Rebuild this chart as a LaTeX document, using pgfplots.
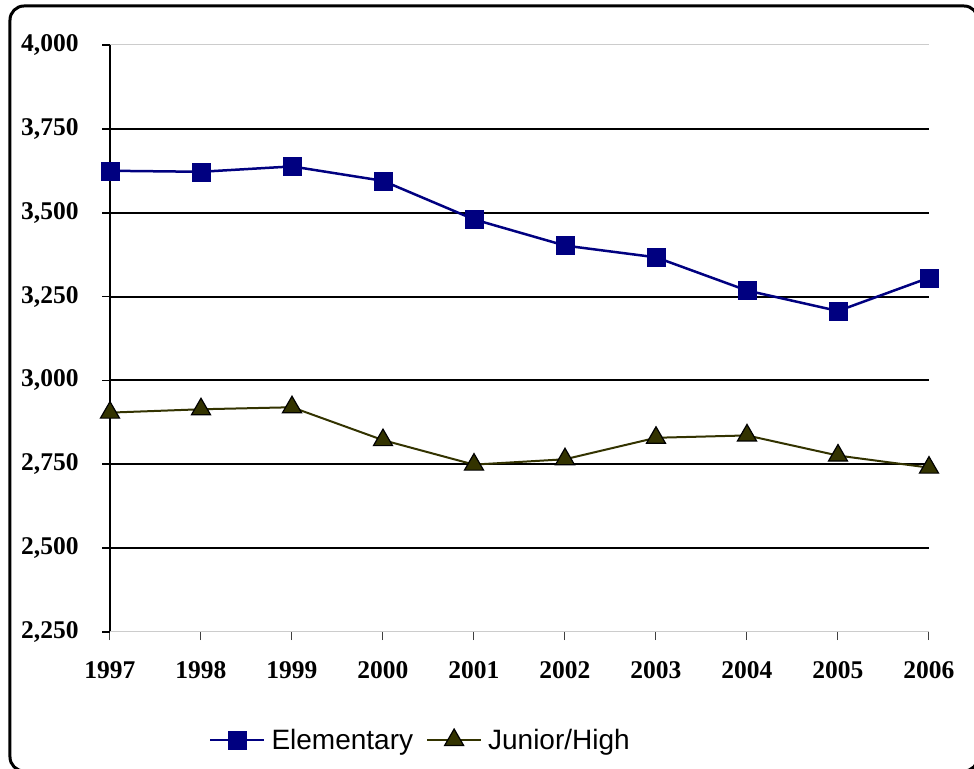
\documentclass[border=0pt]{standalone}
\usepackage{fontspec}
\setmainfont{Liberation Serif}
\newfontfamily\arialfont{Liberation Sans}
\usepackage{pgfplots}
\pgfplotsset{compat=1.18}
\definecolor{elem}{RGB}{0,0,128}
\definecolor{jh}{RGB}{51,51,0}
\begin{document}
\begin{tikzpicture}[x=1bp,y=1bp]
\useasboundingbox (-110,-137) rectangle (864,632);
\begin{axis}[
  at={(0,0)}, anchor=south west,
  scale only axis, width=819bp, height=587bp,
  xmin=1997, xmax=2006, ymin=2250, ymax=4000,
  axis x line*=bottom, axis y line*=left,
  x axis line style={draw=black!75, line width=1bp},
  y axis line style={draw=black, line width=2bp},
  xtick={1997,...,2006},
  xticklabels={1997,1998,1999,2000,2001,2002,2003,2004,2005,2006},
  ytick={2500,2750,3000,3250,3500,3750},
  extra y ticks={2250,4000},
  extra y tick style={grid style={draw=black!20, line width=1bp}},
  ymajorgrids,
  grid style={draw=black, line width=2bp},
  tick align=outside,
  major tick length=8bp,
  xtick style={draw=black!75, line width=1bp},
  ytick style={draw=black, line width=1.8bp},
  /pgf/number format/assume math mode=true,
  /pgf/number format/1000 sep={,},
  tick label style={font=\fontsize{25.5bp}{30bp}\selectfont\bfseries},
  yticklabel style={xshift=-20bp},
  xticklabel style={yshift=-18bp},
  clip=false,
  legend columns=2,
  legend style={at={(0.379,-0.184)}, anchor=center, draw=none, fill=none,
    font=\arialfont\fontsize{28bp}{32bp}\selectfont,
    /tikz/every odd column/.append style={column sep=4bp},
    /tikz/every even column/.append style={column sep=11bp}},
  legend image code/.code={\draw[mark repeat=2,mark phase=2] plot coordinates {(0bp,0bp) (27bp,0bp) (54bp,0bp)};},
]
\addplot[elem, line width=2.5bp, mark=square*, mark size=9bp, mark options={fill=elem, draw=elem, line width=0.5bp}]
  coordinates {(1997,3625) (1998,3622) (1999,3638) (2000,3595) (2001,3480) (2002,3402) (2003,3367) (2004,3268) (2005,3207) (2006,3306)};
\addlegendentry{Elementary}
\addplot[jh, line width=2bp, mark=triangle*, mark size=11bp, mark options={fill=jh, draw=black, line width=1.2bp}]
  coordinates {(1997,2904) (1998,2914) (1999,2920) (2000,2822) (2001,2749) (2002,2765) (2003,2829) (2004,2836) (2005,2776) (2006,2740)};
\addlegendentry{Junior/High}
\end{axis}
\draw[line width=3bp, rounded corners=14bp] (-100,-139) rectangle (868,626);
\end{tikzpicture}
\end{document}
